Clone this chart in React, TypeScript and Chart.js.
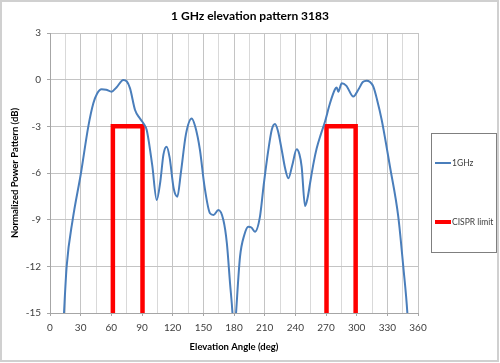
import React, { useEffect, useRef } from "react";
import { Chart, registerables } from "chart.js";

Chart.register(...registerables);

const titleText = "1 GHz elevation pattern 3183";
const xTitle = "Elevation Angle (deg)";
const yTitle = "Normalized Power Pattern (dB)";
const seriesNames = ["1GHz", "CISPR limit"];

const angles1GHz = [
  10, 13.7, 16.3, 22.2, 30.3, 37.5, 42.4, 46, 50.5, 55, 60.3, 65, 71.7, 75, 78.3, 83.2, 88, 91.3,
  94.6, 100, 104.4, 108, 111, 114.1, 117, 121, 124.6, 128, 133, 138.6, 142, 146.7, 151, 156.5,
  160, 164.7, 169.6, 173, 176.1, 178.5, 180, 182, 185.9, 190, 194, 197, 200.5, 205.4, 209,
  213.6, 217, 220.1, 223, 226.7, 230, 233.2, 237, 241.3, 244, 246.2, 249.5, 252, 254.4, 258,
  260.9, 265, 269, 273.9, 278.8, 280.5, 282, 285.4, 290, 296.7, 302, 306, 309.8, 313, 316.3,
  320, 324.5, 332.6, 340.7, 345.6, 349.6, 352,
];
const db1GHz = [
  -20, -15, -12, -9, -6, -3, -1.52, -0.9, -0.62, -0.65, -0.77, -0.5, -0.02, -0.1, -0.56, -1.95,
  -2.5, -2.8, -3.24, -5.5, -7.74, -6.5, -4.8, -4.31, -5, -7, -7.52, -6, -3.5, -2.49, -3, -4.52,
  -6.8, -8.59, -8.7, -8.38, -9.02, -10.5, -13.07, -15, -17, -15, -11.38, -10, -9.45, -9.5,
  -9.77, -8.8, -6.8, -4.52, -3.2, -2.85, -3.3, -4.52, -5.7, -6.34, -5.5, -4.48, -4.8, -5.6,
  -8.12, -7.6, -6.66, -5.3, -4.41, -3.5, -2.7, -1.52, -0.62, -0.5, -0.77, -0.23, -0.4, -1.09,
  -0.6, -0.15, -0.07, -0.15, -0.45, -1.3, -2.59, -5.6, -8.8, -12.02, -15, -18,
];
const cisprAngles = [61.5, 61.5, 90.5, 90.5, 180, 270.5, 270.5, 299, 299];
const cisprDb: (number | null)[] = [-15, -3, -3, -15, null, -15, -3, -3, -15];

const xTickLabels = [0, 30, 60, 90, 120, 150, 180, 210, 240, 270, 300, 330, 360];
const yTickLabels = [-15, -12, -9, -6, -3, 0, 3];

const FONT = "Lato, 'Open Sans', sans-serif";

export default function App() {
  const ref = useRef<HTMLCanvasElement | null>(null);

  useEffect(() => {
    document.body.style.margin = "0";
    const canvas = ref.current;
    if (!canvas) return;

    const decor = {
      id: "decor",
      beforeDraw(chart: any) {
        const ctx = chart.ctx;
        ctx.save();
        ctx.fillStyle = "#ffffff";
        ctx.fillRect(0, 0, chart.width, chart.height);
        ctx.strokeStyle = "#d0d0d0";
        ctx.lineWidth = 2;
        ctx.strokeRect(1, 1, chart.width - 3, chart.height - 3);
        ctx.restore();
      },
      afterDraw(chart: any) {
        const ctx = chart.ctx;
        ctx.save();
        // title
        ctx.fillStyle = "#000000";
        ctx.font = `bold 12px ${FONT}`;
        ctx.textAlign = "center";
        ctx.textBaseline = "middle";
        ctx.fillText(titleText, 250, 16);
        // legend box
        ctx.strokeStyle = "#7f7f7f";
        ctx.lineWidth = 1;
        ctx.strokeRect(431.5, 133.5, 65, 119);
        const ds = chart.data.datasets;
        const rows = [163, 222];
        ds.forEach((d: any, i: number) => {
          ctx.strokeStyle = d.borderColor;
          ctx.lineWidth = i === 0 ? 2 : 4;
          ctx.beginPath();
          ctx.moveTo(435, rows[i]);
          ctx.lineTo(451, rows[i]);
          ctx.stroke();
          ctx.fillStyle = "#404040";
          ctx.font = `8.5px ${FONT}`;
          ctx.textAlign = "left";
          ctx.textBaseline = "middle";
          ctx.fillText(d.label, 452, rows[i]);
        });
        ctx.restore();
      },
    };

    const chart = new Chart(canvas, {
      type: "line",
      data: {
        datasets: [
          {
            label: seriesNames[0],
            data: angles1GHz.map((a, i) => ({ x: a, y: db1GHz[i] })),
            borderColor: "#4a7ebb",
            borderWidth: 2,
            pointRadius: 0,
            cubicInterpolationMode: "monotone",
            fill: false,
          },
          {
            label: seriesNames[1],
            data: cisprAngles.map((a, i) => ({ x: a, y: cisprDb[i] })),
            borderColor: "#ff0000",
            borderWidth: 4.5,
            pointRadius: 0,
            tension: 0,
            spanGaps: false,
            borderJoinStyle: "miter",
            borderCapStyle: "butt",
            fill: false,
          },
        ],
      } as any,
      options: {
        animation: false,
        responsive: false,
        maintainAspectRatio: false,
        layout: { padding: { top: 33, right: 82, left: 0, bottom: 0 } },
        plugins: {
          legend: { display: false },
          title: { display: false },
          tooltip: { enabled: false },
        },
        scales: {
          x: {
            type: "linear",
            min: 0,
            max: 360,
            afterFit: (s: any) => {
              s.height = 50;
            },
            afterBuildTicks: (s: any) => {
              const t = [];
              for (let v = 0; v <= 360; v += 15) t.push({ value: v });
              s.ticks = t;
            },
            ticks: {
              autoSkip: false,
              maxRotation: 0,
              padding: 6,
              color: "#404040",
              font: { family: FONT, size: 10 },
              callback: (v: any) => (xTickLabels.includes(Number(v)) ? String(v) : ""),
            },
            grid: {
              color: (c: any) => (c.tick && c.tick.value % 30 === 0 ? "#c4c4c4" : "#d9d9d9"),
              tickColor: (c: any) => (c.tick && c.tick.value % 30 === 0 ? "#a6a6a6" : "rgba(0,0,0,0)"),
              tickLength: 3,
              lineWidth: 1,
            },
            border: { color: "#a6a6a6" },
            title: {
              display: true,
              text: xTitle,
              color: "#000000",
              font: { family: FONT, size: 9.5, weight: "bold" },
              padding: { top: 0, bottom: 10 },
            },
          },
          y: {
            type: "linear",
            min: -15,
            max: 3,
            afterFit: (s: any) => {
              s.width = 50;
            },
            afterBuildTicks: (s: any) => {
              s.ticks = yTickLabels.map((v) => ({ value: v }));
            },
            ticks: {
              padding: 6,
              color: "#404040",
              font: { family: FONT, size: 10 },
              callback: (v: any) => String(v),
            },
            grid: {
              color: "#c4c4c4",
              tickColor: "#a6a6a6",
              tickLength: 3,
              lineWidth: 1,
            },
            border: { color: "#a6a6a6" },
            title: {
              display: true,
              text: yTitle,
              color: "#000000",
              font: { family: FONT, size: 9.5, weight: "bold" },
              padding: { top: 9, bottom: 0 },
            },
          },
        },
      } as any,
      plugins: [decor],
    });

    return () => chart.destroy();
  }, []);

  return (
    <div style={{ position: "absolute", left: 0, top: 0, width: 500, height: 363 }}>
      <canvas ref={ref} width={500} height={363} style={{ width: 500, height: 363, display: "block" }} />
    </div>
  );
}
